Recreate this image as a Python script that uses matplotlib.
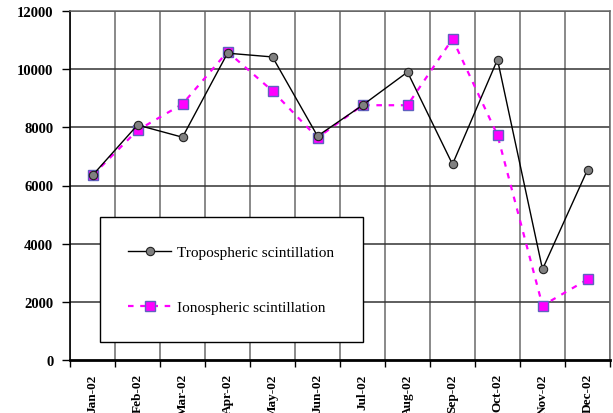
import matplotlib
matplotlib.use("Agg")
import matplotlib.pyplot as plt
import numpy as np

months = ["Jan-02", "Feb-02", "Mar-02", "Apr-02", "May-02", "Jun-02",
          "Jul-02", "Aug-02", "Sep-02", "Oct-02", "Nov-02", "Dec-02"]
tropo = [6350, 8080, 7660, 10550, 10420, 7700, 8760, 9900, 6730, 10330, 3120, 6540]
iono = [6350, 7900, 8800, 10600, 9250, 7640, 8760, 8760, 11040, 7730, 1870, 2770]
yticks = [0, 2000, 4000, 6000, 8000, 10000, 12000]

fig = plt.figure(figsize=(6.13, 4.14), dpi=100)
ax = fig.add_axes([70 / 613, 53 / 414, 540 / 613, 349 / 414])

x = np.arange(len(months))

# grid: verticals at category borders, horizontals at y ticks
for b in np.arange(-0.5, len(months) + 0.5, 1.0):
    ax.axvline(b, color="#6a6a6a", lw=1.1, zorder=1)
for v in yticks[1:]:
    ax.axhline(v, color="#333333", lw=1.1, zorder=1)

ax.plot(x, tropo, color="black", lw=1, marker="o", markersize=6,
        markerfacecolor="#808080", markeredgecolor="#222222", markeredgewidth=0.8,
        label="Tropospheric scintillation", zorder=3)
ax.plot(x, iono, color="#ff00ff", lw=1.6, ls=(0, (2.5, 3)), marker="s", markersize=6.5,
        markerfacecolor="#ff00ff", markeredgecolor="#6060c0", markeredgewidth=1,
        label="Ionospheric scintillation", zorder=2)

ax.set_xlim(-0.5, len(months) - 0.5)
ax.set_ylim(0, 12000)

ax.set_yticks(yticks)
ax.set_yticklabels([str(v) for v in yticks], fontfamily="Liberation Serif",
                   fontweight="bold", fontsize=10.5)
ax.tick_params(axis="y", length=6, width=1, pad=6, colors="black")

ax.set_xticks(x)
ax.set_xticklabels(months, rotation=90, fontfamily="Liberation Serif",
                   fontweight="bold", fontsize=9.5, va="top")
ax.tick_params(axis="x", which="major", length=0, pad=9.5)
ax.set_xticks(np.arange(-0.5, len(months) + 0.5, 1.0), minor=True)
ax.tick_params(axis="x", which="minor", length=5, width=1, color="black")

for s in ["top", "right"]:
    ax.spines[s].set_color("#6a6a6a")
    ax.spines[s].set_linewidth(1.1)
ax.spines["left"].set_color("black")
ax.spines["left"].set_linewidth(1.2)
ax.spines["bottom"].set_color("black")
ax.spines["bottom"].set_linewidth(2)

leg = ax.legend(loc="upper left", bbox_to_anchor=(30 / 540, 143 / 349),
                prop={"family": "Liberation Serif", "size": 11},
                frameon=True, fancybox=False, framealpha=1, edgecolor="black",
                borderpad=1.85, labelspacing=2.7, handlelength=2.8,
                handletextpad=0.4, borderaxespad=0)
leg.get_frame().set_linewidth(1)

fig.savefig("out.png", dpi=100)
